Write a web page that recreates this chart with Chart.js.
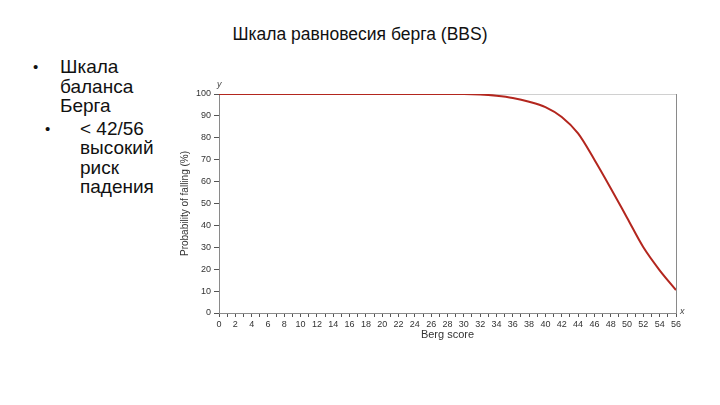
<!DOCTYPE html>
<html lang="ru">
<head>
    <meta charset="UTF-8">
    <title>Шкала равновесия берга (BBS)</title>
    <style>
        body {
            margin: 0;
            width: 720px;
            height: 405px;
            background: #fff;
            font-family: "Liberation Sans", Arial, sans-serif;
            position: relative;
            overflow: hidden;
        }
        #chart-box {
            position: absolute;
            left: 0;
            top: 0;
            width: 720px;
            height: 405px;
        }
        .title {
            position: absolute;
            top: 24px;
            left: 0;
            width: 720px;
            text-align: center;
            font-size: 17.5px;
            color: #111;
        }
        .bullets {
            position: absolute;
            left: 30px;
            top: 57px;
            font-size: 19px;
            line-height: 19.5px;
            color: #111;
        }
        .b1, .b2 { position: relative; }
        .b1 { padding-left: 30px; }
        .b2 { padding-left: 50px; margin-top: 3px; }
        .b1::before, .b2::before {
            content: "•";
            position: absolute;
            font-size: 15px;
        }
        .b1::before { left: 3px; }
        .b2::before { left: 15px; }
        .axis-letter {
            position: absolute;
            font-size: 9px;
            font-style: italic;
            color: #444;
        }
    </style>
</head>
<body>
    <div class="title">Шкала равновесия берга (BBS)</div>
    <div class="bullets">
        <div class="b1">Шкала<br>баланса<br>Берга</div>
        <div class="b2">&lt; 42/56<br>высокий<br>риск<br>падения</div>
    </div>
    <div id="chart-box"><canvas id="bbs-chart" width="720" height="405"></canvas></div>
    <div class="axis-letter" style="left:217px; top:79px;">y</div>
    <div class="axis-letter" style="left:680px; top:306px;">x</div>

    <script src="https://cdn.jsdelivr.net/npm/chart.js"></script>
    <script>
        // Berg score (x) and probability of falling, %
        const bergScores = [0, 2, 4, 6, 8, 10, 12, 14, 16, 18, 20, 22, 24, 26, 28,
                            30, 32, 34, 36, 38, 40, 42, 44, 46, 48, 50, 52, 54, 56];
        const fallProbability = [100, 100, 100, 100, 100, 100, 100, 100, 100, 100, 100, 100, 100, 100, 100,
                                 100, 99.8, 99.2, 98.2, 96.5, 94, 89.5, 82, 70, 57, 43.5, 30, 19.5, 10.5];
        const xTickStep = 1;
        const yTickStep = 10;

        const points = bergScores.map((x, i) => ({ x: x, y: fallProbability[i] }));

        const axisGrey = '#8a8a8a';
        const tickFont = { family: 'Liberation Sans', size: 9 };

        const ctx = document.getElementById('bbs-chart').getContext('2d');
        new Chart(ctx, {
            type: 'line',
            data: {
                datasets: [{
                    data: points,
                    borderColor: '#b3261e',
                    borderWidth: 2,
                    pointRadius: 0,
                    tension: 0.4,
                    cubicInterpolationMode: 'monotone',
                    fill: false
                }]
            },
            options: {
                responsive: false,
                animation: false,
                devicePixelRatio: 1,
                layout: { padding: { left: 176, top: 94, right: 44, bottom: 62 } },
                plugins: { legend: { display: false }, tooltip: { enabled: false } },
                scales: {
                    x: {
                        type: 'linear',
                        min: 0,
                        max: 56,
                        afterFit: s => { s.height = 30; },
                        ticks: {
                            stepSize: xTickStep,
                            autoSkip: false,
                            maxRotation: 0,
                            padding: 2,
                            color: '#333',
                            font: tickFont,
                            callback: v => (v % 2 === 0 ? v : '')
                        },
                        grid: { drawOnChartArea: false, tickLength: 4, color: '#555' },
                        border: { color: axisGrey, width: 1 },
                        title: {
                            display: true,
                            text: 'Berg score',
                            color: '#333',
                            font: { family: 'Liberation Sans', size: 11 },
                            padding: { top: 0, bottom: 1 }
                        }
                    },
                    y: {
                        min: 0,
                        max: 100,
                        afterFit: s => { s.width = 43; },
                        ticks: { stepSize: yTickStep, padding: 3, color: '#333', font: tickFont },
                        grid: { drawOnChartArea: false, tickLength: 5, color: '#555' },
                        border: { color: axisGrey, width: 1 },
                        title: {
                            display: true,
                            text: 'Probability of falling (%)',
                            color: '#333',
                            font: { family: 'Liberation Sans', size: 10 },
                            padding: { top: 3, bottom: 0 }
                        }
                    },
                    xTop: {
                        type: 'linear',
                        position: 'top',
                        min: 0,
                        max: 56,
                        afterFit: s => { s.height = 0; },
                        ticks: { display: false },
                        grid: { display: false },
                        border: { color: '#d0d0d0', width: 1 }
                    },
                    yRight: {
                        position: 'right',
                        min: 0,
                        max: 100,
                        afterFit: s => { s.width = 0; },
                        ticks: { display: false },
                        grid: { display: false },
                        border: { color: axisGrey, width: 1 }
                    }
                }
            }
        });
    </script>
</body>
</html>
